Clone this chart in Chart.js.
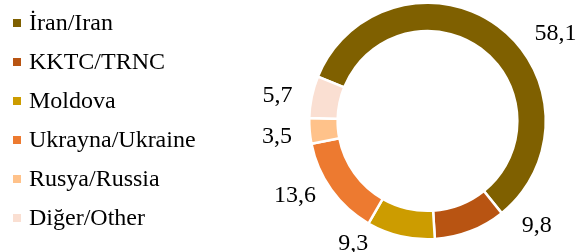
<!DOCTYPE html>
<html>
<head>
<meta charset="utf-8">
<script src="https://cdn.jsdelivr.net/npm/chart.js@4"></script>
<style>
  html, body { margin: 0; padding: 0; background: #fff; }
  #wrap { width: 587px; height: 252px; }
</style>
</head>
<body>
<div id="wrap"><canvas id="chart"></canvas></div>
<script>
  const labels = ['İran/Iran', 'KKTC/TRNC', 'Moldova', 'Ukrayna/Ukraine', 'Rusya/Russia', 'Diğer/Other']
  const shares = [58.1, 9.8, 9.3, 13.6, 3.5, 5.7]
  const colors = ['#7F6000', '#B85412', '#CC9C00', '#ED7A30', '#FFC28A', '#FADFD2']
  // angle nudges (deg) and distance past the ring (px) for the outside labels
  const labelNudge = [19, -25, 18, 6, -1, -2]
  const labelGap = [37, 33, 25, 34, 33, 34]

  const FONT = '24px "Liberation Serif", "Times New Roman", serif'

  const fmt = v => v.toFixed(1).replace('.', ',')

  // legend on the left, drawn by hand
  const sideLegend = {
    id: 'sideLegend',
    afterDraw(chart) {
      const ctx = chart.ctx
      ctx.save()
      ctx.font = FONT
      ctx.textBaseline = 'middle'
      labels.forEach((lab, i) => {
        const y = 23 + i * 39
        ctx.fillStyle = colors[i]
        ctx.fillRect(13, y - 4, 8, 8)
        ctx.fillStyle = '#000'
        ctx.fillText(lab, 29, y + 1)
      })
      ctx.restore()
    }
  }

  // value labels outside the ring
  const outsideLabels = {
    id: 'outsideLabels',
    afterDatasetsDraw(chart) {
      const ctx = chart.ctx
      const meta = chart.getDatasetMeta(0)
      ctx.save()
      ctx.font = FONT
      ctx.fillStyle = '#000'
      ctx.textAlign = 'center'
      ctx.textBaseline = 'middle'
      meta.data.forEach((arc, i) => {
        const mid = (arc.startAngle + arc.endAngle) / 2 + labelNudge[i] * Math.PI / 180
        const r = arc.outerRadius + labelGap[i]
        const x = arc.x + Math.cos(mid) * r
        const y = arc.y + Math.sin(mid) * r
        ctx.fillText(fmt(shares[i]), x, y)
      })
      ctx.restore()
    }
  }

  new Chart(document.getElementById('chart'), {
    type: 'doughnut',
    data: {
      labels: labels,
      datasets: [{
        data: shares,
        backgroundColor: colors,
        borderColor: '#fff',
        borderWidth: 2.5,
        hoverOffset: 0
      }]
    },
    options: {
      responsive: true,
      maintainAspectRatio: false,
      animation: false,
      rotation: -68,
      cutout: '76%',
      layout: { padding: { left: 308, right: 40, top: 1, bottom: 11 } },
      plugins: {
        legend: { display: false },
        tooltip: { enabled: false }
      }
    },
    plugins: [sideLegend, outsideLabels]
  })
</script>
</body>
</html>
